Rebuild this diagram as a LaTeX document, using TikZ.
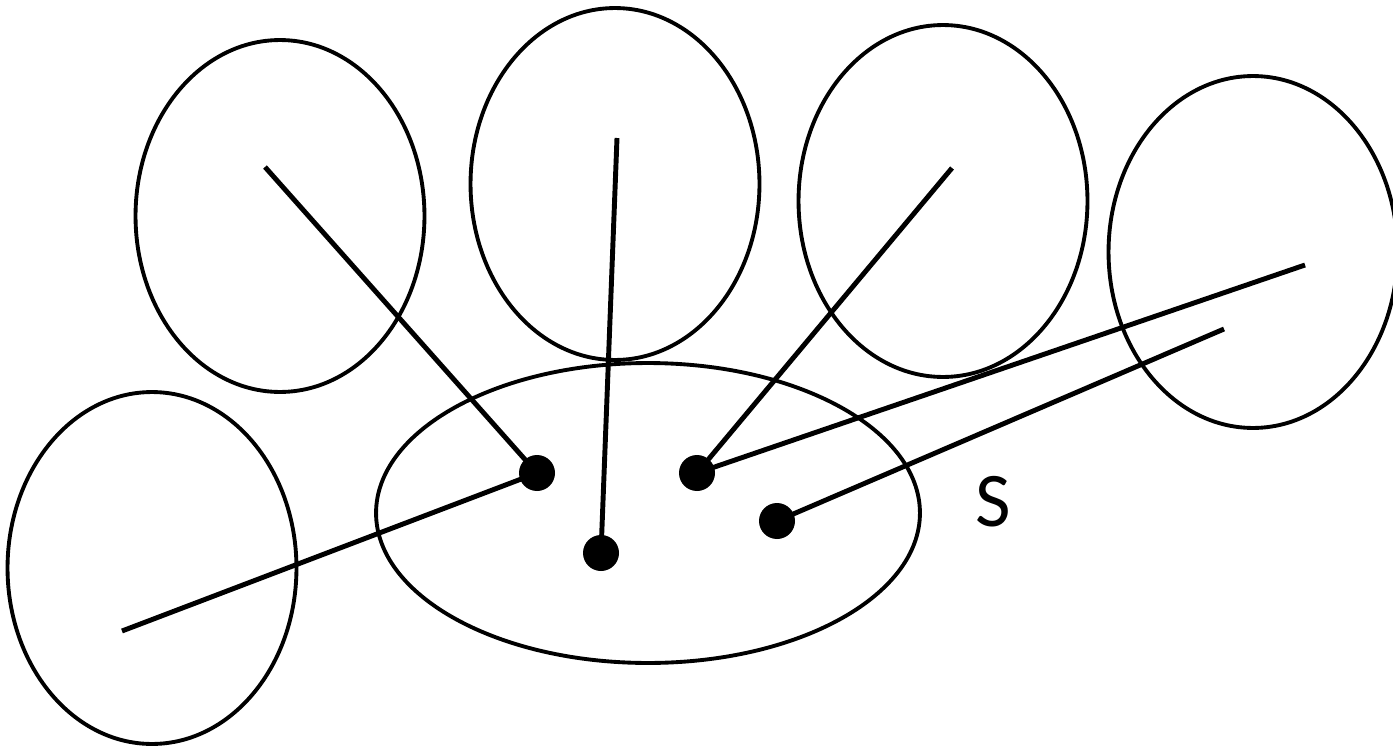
\documentclass[tikz,border=0pt]{standalone}
\usepackage{fontspec}
\setsansfont{Carlito}
\usetikzlibrary{shapes.geometric, positioning}

\begin{document}
\begin{tikzpicture}[
    x=0.02cm, y=-0.02cm,
    blob/.style={ellipse, draw=black, line width=2.2pt, inner sep=0pt, minimum width=5.78cm, minimum height=7.04cm},
    dot/.style={circle, fill=black, inner sep=0pt, minimum size=0.72cm},
    link/.style={line width=2.8pt, line cap=butt},
    setlabel/.style={font=\sffamily\fontsize{44}{44}\selectfont, inner sep=0pt}
]
\useasboundingbox (0,0) rectangle (1393,747);

% Surrounding sets
\node[blob] (left)   at (280, 216) {};
\node[blob] (middle) at (615, 184) {};
\node[blob] (right)  at (943, 201) {};
\node[blob] (far)    at (1253, 252) {};
\node[blob] (low)    at (152, 568) {};

% Central set S
\node[blob, minimum width=10.88cm, minimum height=6.0cm] (S) at (648, 513) {};
\node[setlabel] (Slabel) at (993, 502) {S};

% Points of S
\node[dot] (p1) at (537, 473) {};
\node[dot] (p2) at (601, 553) {};
\node[dot] (p3) at (697, 473) {};
\node[dot] (p4) at (777, 521) {};

% Free ends inside the other sets
\coordinate (e1) at (265, 167);
\coordinate (e2) at (617, 138);
\coordinate (e3) at (952, 168);
\coordinate (e4) at (1305, 265);
\coordinate (e5) at (1224, 329);
\coordinate (e6) at (122, 631);

% Links
\draw[link] (e1) -- (p1.center);
\draw[link] (e6) -- (p1.center);
\draw[link] (e2) -- (p2.center);
\draw[link] (e3) -- (p3.center);
\draw[link] (e4) -- (p3.center);
\draw[link] (e5) -- (p4.center);

\end{tikzpicture}
\end{document}
